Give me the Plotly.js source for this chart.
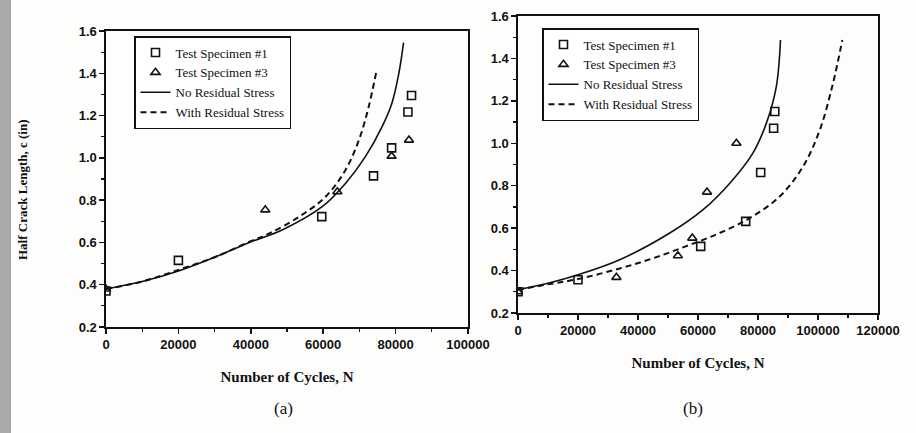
<!DOCTYPE html>
<html>
<head>
<meta charset="utf-8">
<script src="https://cdn.plot.ly/plotly-3.0.1.min.js"></script>
<style>html,body{margin:0;padding:0;background:#fff;}#chart{width:916px;height:433px;}</style>
</head>
<body>
<div id="chart"></div>
<script>
// ---- Panel (a) data ----
const aSpec1N = [0, 20000, 59600, 73900, 78900, 83400, 84400];
const aSpec1C = [0.37, 0.515, 0.722, 0.915, 1.047, 1.217, 1.295];
const aSpec3N = [0, 44000, 63900, 78900, 83700];
const aSpec3C = [0.38, 0.754, 0.84, 1.008, 1.084];
const aNoResN = [0, 10000, 20000, 30000, 39600, 48800, 59800, 66200, 71700, 76300, 79000, 80900, 82200];
const aNoResC = [0.38, 0.415, 0.465, 0.53, 0.60, 0.66, 0.77, 0.88, 1.007, 1.149, 1.26, 1.40, 1.545];
const aWithResN = [0, 10000, 20000, 30000, 39600, 45100, 53400, 60700, 66200, 69900, 72600, 74700];
const aWithResC = [0.38, 0.415, 0.47, 0.53, 0.603, 0.643, 0.722, 0.817, 0.944, 1.086, 1.244, 1.41];

// ---- Panel (b) data ----
const bSpec1N = [0, 20000, 60900, 75900, 80900, 85200, 85600];
const bSpec1C = [0.30, 0.357, 0.514, 0.632, 0.862, 1.071, 1.15];
const bSpec3N = [0, 32800, 53300, 58100, 63000, 72800];
const bSpec3C = [0.30, 0.368, 0.47, 0.553, 0.77, 1.0];
const bNoResN = [0, 10000, 20000, 33900, 50600, 61700, 70600, 78300, 82800, 86100, 87500];
const bNoResC = [0.31, 0.34, 0.38, 0.451, 0.577, 0.687, 0.812, 0.954, 1.095, 1.267, 1.487];
const bWithResN = [0, 10000, 20000, 33900, 45000, 56100, 67200, 77200, 87200, 95000, 100600, 105000, 108100];
const bWithResC = [0.31, 0.335, 0.36, 0.41, 0.458, 0.515, 0.577, 0.647, 0.749, 0.89, 1.063, 1.283, 1.487];

// ---- Text ----
const seriesNames = ["Test Specimen #1", "Test Specimen #3", "No Residual Stress", "With Residual Stress"];
const xTitle = "Number of Cycles, N";
const yTitle = "Half Crack Length, c (in)";
const panelLabels = ["(a)", "(b)"];

const ink = "#111";
const serif = "'Liberation Serif', 'DejaVu Serif', serif";
const sans = "'Liberation Sans', Arial, sans-serif";

function panelTraces(s1n, s1c, s3n, s3c, nrn, nrc, wrn, wrc, xa, ya, lg) {
  return [
    {x: s1n, y: s1c, xaxis: xa, yaxis: ya, legend: lg, name: seriesNames[0], mode: "markers", type: "scatter",
     marker: {symbol: "square-open", size: 8, color: ink, line: {width: 1.6, color: ink}}},
    {x: s3n, y: s3c, xaxis: xa, yaxis: ya, legend: lg, name: seriesNames[1], mode: "markers", type: "scatter",
     marker: {symbol: "triangle-up-open", size: 8, color: ink, line: {width: 1.6, color: ink}}},
    {x: nrn, y: nrc, xaxis: xa, yaxis: ya, legend: lg, name: seriesNames[2], mode: "lines", type: "scatter",
     line: {color: ink, width: 1.6, shape: "spline", smoothing: 1}},
    {x: wrn, y: wrc, xaxis: xa, yaxis: ya, legend: lg, name: seriesNames[3], mode: "lines", type: "scatter",
     line: {color: ink, width: 2, dash: "6px,4px", shape: "spline", smoothing: 1}}
  ];
}

const data = [].concat(
  panelTraces(aSpec1N, aSpec1C, aSpec3N, aSpec3C, aNoResN, aNoResC, aWithResN, aWithResC, "x", "y", "legend"),
  panelTraces(bSpec1N, bSpec1C, bSpec3N, bSpec3C, bNoResN, bNoResC, bWithResN, bWithResC, "x2", "y2", "legend2")
);

function xAxis(domain, range, anchor) {
  return {
    domain: domain, range: range, anchor: anchor, dtick: 20000, tick0: 0, tickformat: "d",
    ticks: "outside", ticklen: 5, tickwidth: 1.5, tickcolor: ink,
    minor: {dtick: 10000, ticks: "outside", ticklen: 3, tickwidth: 1.2, tickcolor: ink, showgrid: false},
    showline: true, mirror: true, linecolor: ink, linewidth: 1.6, showgrid: false, zeroline: false,
    tickfont: {family: sans, size: 13, color: ink, weight: "bold"}, automargin: false,
    title: {text: xTitle, standoff: 20, font: {family: serif, size: 15, color: ink, weight: "bold"}}
  };
}
function yAxis(domain, anchor) {
  return {
    domain: domain, range: [0.2, 1.6], anchor: anchor, dtick: 0.2, tick0: 0.2, tickformat: ".1f",
    ticks: "outside", ticklen: 5, tickwidth: 1.5, tickcolor: ink,
    minor: {dtick: 0.1, ticks: "outside", ticklen: 3, tickwidth: 1.2, tickcolor: ink, showgrid: false},
    showline: true, mirror: true, linecolor: ink, linewidth: 1.6, showgrid: false, zeroline: false,
    tickfont: {family: sans, size: 13, color: ink, weight: "bold"}, automargin: false
  };
}

const W = 916, H = 433;
const legendStyle = {
  bgcolor: "#fff", bordercolor: ink, borderwidth: 1.5,
  font: {family: serif, size: 13, color: ink}, tracegroupgap: 0,
  xanchor: "left", yanchor: "top", itemwidth: 30
};

const layout = {
  width: W, height: H, margin: {l: 0, r: 0, t: 0, b: 0},
  paper_bgcolor: "#fdfdfc", plot_bgcolor: "rgba(0,0,0,0)",
  showlegend: true,
  xaxis: xAxis([106 / W, 468 / W], [0, 100000], "y"),
  yaxis: yAxis([(H - 327) / H, (H - 31) / H], "x"),
  xaxis2: xAxis([518 / W, 878 / W], [0, 120000], "y2"),
  yaxis2: yAxis([(H - 313) / H, (H - 16) / H], "x2"),
  legend: Object.assign({x: 134 / W, y: 1 - 36 / H}, legendStyle),
  legend2: Object.assign({x: 542 / W, y: 1 - 28 / H}, legendStyle),
  annotations: [
    {text: yTitle, xref: "paper", yref: "paper", x: 22 / W, y: 1 - 190 / H, textangle: -90,
     showarrow: false, xanchor: "center", yanchor: "middle",
     font: {family: serif, size: 13, color: ink, weight: "bold"}},
    {text: panelLabels[0], xref: "paper", yref: "paper", x: 283 / W, y: 1 - 408 / H,
     showarrow: false, xanchor: "center", yanchor: "middle", font: {family: serif, size: 17, color: ink}},
    {text: panelLabels[1], xref: "paper", yref: "paper", x: 693 / W, y: 1 - 408 / H,
     showarrow: false, xanchor: "center", yanchor: "middle", font: {family: serif, size: 17, color: ink}}
  ],
  shapes: [
    {type: "rect", xref: "paper", yref: "paper", x0: 0, x1: 11 / W, y0: 0, y1: 1,
     fillcolor: "#a9a9a9", line: {width: 0}, layer: "below"}
  ]
};

Plotly.newPlot("chart", data, layout, {displayModeBar: false, staticPlot: true});
</script>
</body>
</html>
